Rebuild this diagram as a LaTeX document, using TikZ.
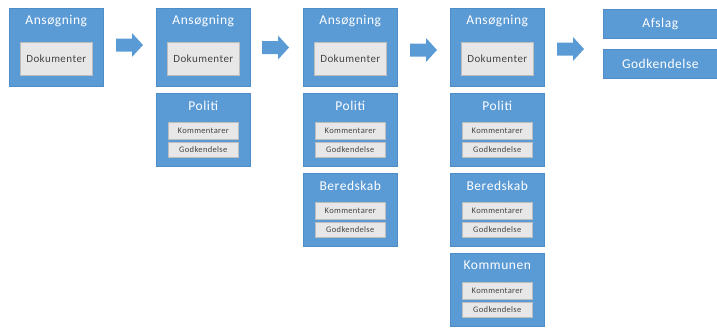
\documentclass[tikz,border=0pt]{standalone}
\usepackage{fontspec}
\setmainfont{Carlito}
\newfontfamily\widefont[LetterSpace=4]{Carlito}
\definecolor{boxblue}{HTML}{5B9BD5}
\definecolor{boxedge}{HTML}{4F8DC9}
\definecolor{docfill}{HTML}{E7E7E7}
\definecolor{docedge}{HTML}{BDBDBD}
\definecolor{doctext}{HTML}{454545}
\tikzset{
  panel/.style={rectangle, fill=boxblue, draw=boxedge, line width=0.6pt, inner sep=0pt,
    minimum width=94pt, anchor=north west},
  bigpanel/.style={panel, minimum height=78pt},
  rowpanel/.style={panel, minimum height=73pt},
  title/.style={text=white, font=\widefont\fontsize{13.5}{15}\selectfont, inner sep=0pt},
  docbox/.style={rectangle, fill=docfill, draw=docedge, line width=0.6pt, inner sep=0pt,
    minimum width=72pt, minimum height=33pt, text=doctext, font=\widefont\fontsize{11}{12}\selectfont},
  smallbox/.style={rectangle, fill=docfill, draw=docedge, line width=0.6pt, inner sep=0pt,
    minimum width=70pt, text=doctext, font=\widefont\fontsize{8.5}{9}\selectfont},
  flowarrow/.style={fill=boxblue},
  outcome/.style={rectangle, fill=boxblue, draw=boxedge, line width=0.6pt, inner sep=0pt,
    minimum width=114pt, minimum height=29pt, text=white,
    font=\widefont\fontsize{13.5}{15}\selectfont, anchor=north west}
}
% block arrow starting at the given coordinate (left end, mid height)
\newcommand{\blockarrow}[1]{%
  \fill[flowarrow] (#1) ++(0,-6.5) -- ++(16,0) -- ++(0,-5.5) -- ++(11,12)
    -- ++(-11,12) -- ++(0,-5.5) -- ++(-16,0) -- cycle;}
\begin{document}
\begin{tikzpicture}[x=1pt, y=-1pt]
\useasboundingbox (0,0) rectangle (717,327);

% application stage panels (one per column)
\foreach \i/\xl in {1/9, 2/156, 3/303, 4/450} {
  \node[bigpanel] (app\i) at (\xl,8) {};
  \node[title] (appt\i) at ([yshift=-13pt]app\i.north) {Ansøgning};
  \node[docbox] (doc\i) at ([yshift=-50.5pt]app\i.north) {Dokumenter};
}

% review panels: Politi, Beredskab, Kommunen
\foreach \c/\xl in {2/156, 3/303, 4/450} {
  \node[rowpanel] (pol\c) at (\xl,93) {};
}
\foreach \c/\xl in {3/303, 4/450} {
  \node[rowpanel] (ber\c) at (\xl,173) {};
}
\node[rowpanel] (kom4) at (450,253) {};

\foreach \p/\t in {pol2/Politi, pol3/Politi, pol4/Politi, ber3/Beredskab, ber4/Beredskab, kom4/Kommunen} {
  \node[title] (\p t) at ([yshift=-12.5pt]\p.north) {\t};
  \node[smallbox, minimum height=17pt] (\p k) at ([yshift=-37.5pt]\p.north) {Kommentarer};
  \node[smallbox, minimum height=15pt] (\p g) at ([yshift=-57pt]\p.north) {Godkendelse};
}

% outcomes
\node[outcome] (afslag) at (603,9) {Afslag};
\node[outcome] (godk) at (603,49) {Godkendelse};

% block arrows between stages
\coordinate (ar1) at (116,45);
\coordinate (ar2) at (262,47.5);
\coordinate (ar3) at (410,50);
\coordinate (ar4) at (557,49);
\blockarrow{ar1}
\blockarrow{ar2}
\blockarrow{ar3}
\blockarrow{ar4}
\end{tikzpicture}
\end{document}
